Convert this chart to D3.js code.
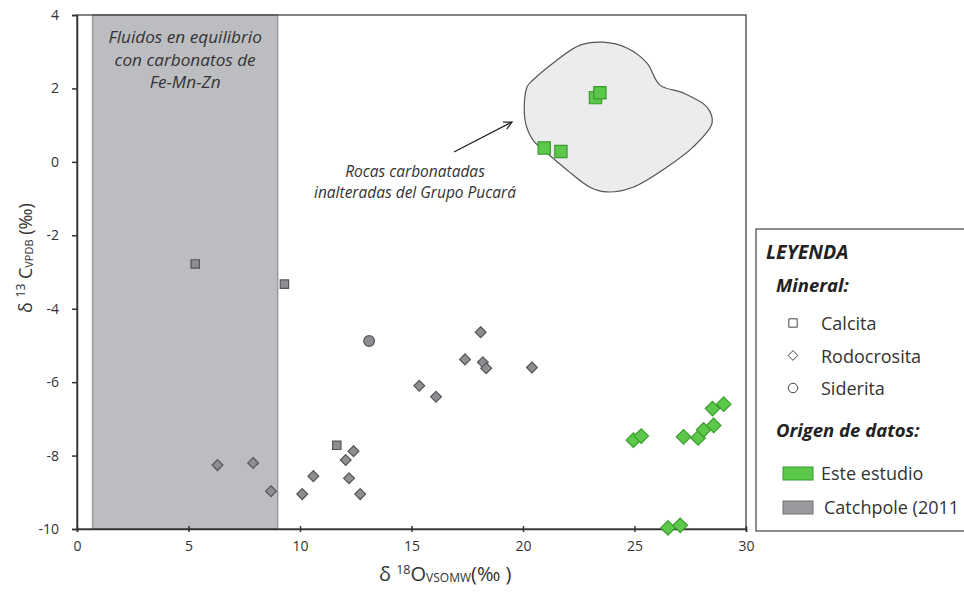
<!DOCTYPE html>
<html>
<head>
<meta charset="utf-8">
<script src="https://cdn.jsdelivr.net/npm/d3@7"></script>
<style>
  body { margin: 0; background: #fff; }
  svg { display: block; font-family: "Open Sans", Lato, sans-serif; }
</style>
</head>
<body>
<svg id="chart" width="964" height="597"></svg>
<script>
// valeurs (δ18O, δ13C)
const xTicks = [0, 5, 10, 15, 20, 25, 30];
const yTicks = [4, 2, 0, -2, -4, -6, -8, -10];

const catchpoleCalcita = [[5.3, -2.78], [9.3, -3.33], [11.65, -7.72]];
const catchpoleSiderita = [[13.1, -4.88]];
const catchpoleRodocrosita = [
  [6.3, -8.26], [7.9, -8.2], [8.7, -8.97], [10.1, -9.05], [10.6, -8.56],
  [12.05, -8.12], [12.4, -7.88], [12.2, -8.62], [12.7, -9.05],
  [15.35, -6.1], [16.1, -6.4], [17.4, -5.38], [18.1, -4.64],
  [18.2, -5.46], [18.35, -5.62], [20.4, -5.6]
];
const esteCalcita = [[23.25, 1.75], [23.45, 1.88], [20.95, 0.38], [21.7, 0.28]];
const esteRodocrosita = [
  [24.95, -7.58], [25.3, -7.47], [27.2, -7.49], [27.85, -7.52],
  [28.1, -7.3], [28.55, -7.18], [28.5, -6.72], [29.0, -6.6],
  [26.5, -9.97], [27.05, -9.9]
];

// contour des roches carbonatées du Groupe Pucará
const pucaraOutline = [
  [20.18, 2.04], [20.09, 1.14], [20.45, 0.59], [21.08, 0.24], [21.97, -0.22],
  [23.0, -0.69], [23.77, -0.82], [24.93, -0.69], [26.46, -0.14], [27.62, 0.4],
  [28.48, 1.06], [28.25, 1.49], [27.17, 1.88], [26.14, 2.09], [25.56, 2.69],
  [24.66, 3.1], [23.59, 3.26], [22.56, 3.18], [21.52, 2.77], [20.45, 2.23]
];

const bandRange = [0.7, 9.0];
const bandLines = ["Fluidos en equilibrio", "con carbonatos de", "Fe-Mn-Zn"];
const noteLines = ["Rocas carbonatadas", "inalteradas del Grupo Pucará"];

const minerales = ["Calcita", "Rodocrosita", "Siderita"];
const origenes = ["Este estudio", "Catchpole (2011"];

const svg = d3.select("#chart");
const mLeft = 77, mRight = 746, mTop = 15, mBottom = 529;

const x = d3.scaleLinear().domain([0, 30]).range([mLeft, mRight]);
const y = d3.scaleLinear().domain([-10, 4]).range([mBottom, mTop]);

const gray = { fill: "#8e8e92", stroke: "#555" };
const green = { fill: "#5cc84a", stroke: "#3a9a2e" };

// bande grise
svg.append("rect")
  .attr("x", x(bandRange[0]))
  .attr("y", mTop)
  .attr("width", x(bandRange[1]) - x(bandRange[0]))
  .attr("height", mBottom - mTop)
  .attr("fill", "#bcbdc1")
  .attr("stroke", "#9c9ca0")
  .attr("stroke-width", 1.5);

const bandText = svg.append("text")
  .attr("text-anchor", "middle")
  .attr("font-style", "italic")
  .attr("font-size", 17.2)
  .attr("fill", "#333");
bandLines.forEach((t, i) => {
  bandText.append("tspan")
    .attr("x", (x(bandRange[0]) + x(bandRange[1])) / 2)
    .attr("y", 43 + i * 22.5)
    .text(t);
});

// contour Pucará
svg.append("path")
  .datum(pucaraOutline)
  .attr("d", d3.line().x(d => x(d[0])).y(d => y(d[1])).curve(d3.curveCatmullRomClosed))
  .attr("fill", "#ececee")
  .attr("stroke", "#555")
  .attr("stroke-width", 1.2);

// flèche + note
svg.append("defs").append("marker")
  .attr("id", "arrow")
  .attr("viewBox", "0 0 10 10")
  .attr("refX", 9).attr("refY", 5)
  .attr("markerWidth", 10).attr("markerHeight", 10)
  .attr("markerUnits", "userSpaceOnUse")
  .attr("orient", "auto")
  .append("path")
  .attr("d", "M1,1 L9,5 L1,9")
  .attr("fill", "none")
  .attr("stroke", "#222")
  .attr("stroke-width", 1.2);

svg.append("line")
  .attr("x1", 454).attr("y1", 152)
  .attr("x2", 512).attr("y2", 122)
  .attr("stroke", "#222")
  .attr("stroke-width", 1.3)
  .attr("marker-end", "url(#arrow)");

const noteText = svg.append("text")
  .attr("text-anchor", "middle")
  .attr("font-style", "italic")
  .attr("font-size", 15.5)
  .attr("fill", "#333");
noteLines.forEach((t, i) => {
  noteText.append("tspan")
    .attr("x", 415)
    .attr("y", 177 + i * 20.5)
    .text(t);
});

// cadre
svg.append("rect")
  .attr("x", mLeft).attr("y", mTop)
  .attr("width", mRight - mLeft).attr("height", mBottom - mTop)
  .attr("fill", "none")
  .attr("stroke", "#333")
  .attr("stroke-width", 1.2);

// axes
const xAxis = svg.append("g")
  .attr("transform", `translate(0,${mBottom})`)
  .call(d3.axisBottom(x).tickValues(xTicks).tickSize(3).tickPadding(9));
xAxis.selectAll(".tick line").attr("y1", -3).attr("stroke", "#333").attr("stroke-width", 1.5);

const yAxis = svg.append("g")
  .attr("transform", `translate(${mLeft},0)`)
  .call(d3.axisLeft(y).tickValues(yTicks).tickSize(5).tickPadding(13)
    .tickFormat(d => d < 0 ? "-" + Math.abs(d) : d));
yAxis.selectAll(".tick line").attr("stroke", "#333").attr("stroke-width", 1.5);

[xAxis, yAxis].forEach(a => {
  a.select(".domain").attr("stroke", "#333").attr("stroke-width", 1.5);
  a.selectAll("text").attr("font-size", 14).attr("fill", "#333").attr("font-family", "'Open Sans', sans-serif");
});

// titres des axes
const xTitle = svg.append("text")
  .attr("x", 379).attr("y", 581)
  .attr("font-size", 20)
  .attr("fill", "#333");
xTitle.append("tspan").text("δ ");
xTitle.append("tspan").attr("font-size", 12.5).attr("dy", -7).text("18");
xTitle.append("tspan").attr("dy", 7).text("O");
xTitle.append("tspan").attr("font-size", 12).attr("dy", 1).text("VSOMW");
xTitle.append("tspan").attr("dy", -1).text("(‰ )");

const yTitle = svg.append("text")
  .attr("transform", "translate(32,258) rotate(-90)")
  .attr("text-anchor", "middle")
  .attr("font-size", 18)
  .attr("fill", "#333");
yTitle.append("tspan").text("δ ");
yTitle.append("tspan").attr("font-size", 12).attr("dy", -7).text("13");
yTitle.append("tspan").attr("dy", 7).text(" C");
yTitle.append("tspan").attr("font-size", 11).attr("dy", 1).text("VPDB");
yTitle.append("tspan").attr("dy", -1).text(" (‰)");

// points
const drawPoints = (data, symbol, size, col, cls) => {
  svg.selectAll("." + cls)
    .data(data)
    .join("path")
    .attr("class", cls)
    .attr("transform", d => `translate(${x(d[0])},${y(d[1])})`)
    .attr("d", d3.symbol().type(symbol).size(size))
    .attr("fill", col.fill)
    .attr("stroke", col.stroke)
    .attr("stroke-width", 1.2);
};

drawPoints(catchpoleRodocrosita, d3.symbolDiamond2, 75, gray, "c-rodo");
drawPoints(catchpoleCalcita, d3.symbolSquare, 70, gray, "c-calc");
drawPoints(catchpoleSiderita, d3.symbolCircle, 90, gray, "c-side");
drawPoints(esteRodocrosita, d3.symbolDiamond2, 135, green, "e-rodo");
drawPoints(esteCalcita, d3.symbolSquare, 150, green, "e-calc");

// légende
const lg = svg.append("g");
lg.append("rect")
  .attr("x", 756).attr("y", 229)
  .attr("width", 230).attr("height", 302)
  .attr("fill", "#fff")
  .attr("stroke", "#444")
  .attr("stroke-width", 1.2);

lg.append("text")
  .attr("x", 766).attr("y", 259)
  .attr("font-size", 19.5).attr("font-weight", "bold").attr("font-style", "italic")
  .attr("fill", "#222")
  .text("LEYENDA");

lg.append("text")
  .attr("x", 776).attr("y", 292)
  .attr("font-size", 18.5).attr("font-weight", "bold").attr("font-style", "italic")
  .attr("fill", "#222")
  .text("Mineral:");

const mineralSymbols = [d3.symbolSquare, d3.symbolDiamond2, d3.symbolCircle];
const mineralY = d3.scalePoint().domain(minerales).range([323, 388]);
minerales.forEach((m, i) => {
  lg.append("path")
    .attr("transform", `translate(793,${mineralY(m)})`)
    .attr("d", d3.symbol().type(mineralSymbols[i]).size(i === 1 ? 60 : 70))
    .attr("fill", "#fff")
    .attr("stroke", "#444")
    .attr("stroke-width", 1);
  lg.append("text")
    .attr("x", 821).attr("y", mineralY(m) + 7)
    .attr("font-size", 18).attr("fill", "#333")
    .text(m);
});

lg.append("text")
  .attr("x", 776).attr("y", 437)
  .attr("font-size", 18.5).attr("font-weight", "bold").attr("font-style", "italic")
  .attr("fill", "#222")
  .text("Origen de datos:");

const origenColors = [green, { fill: "#9a9a9e", stroke: "#707074" }];
const origenY = d3.scalePoint().domain(origenes).range([473, 507]);
origenes.forEach((o, i) => {
  lg.append("rect")
    .attr("x", 783).attr("y", origenY(o) - 6)
    .attr("width", 30).attr("height", 13)
    .attr("fill", origenColors[i].fill)
    .attr("stroke", origenColors[i].stroke);
  lg.append("text")
    .attr("x", i === 0 ? 821 : 824).attr("y", origenY(o) + 7)
    .attr("font-size", 18).attr("fill", "#333")
    .text(o);
});
</script>
</body>
</html>
